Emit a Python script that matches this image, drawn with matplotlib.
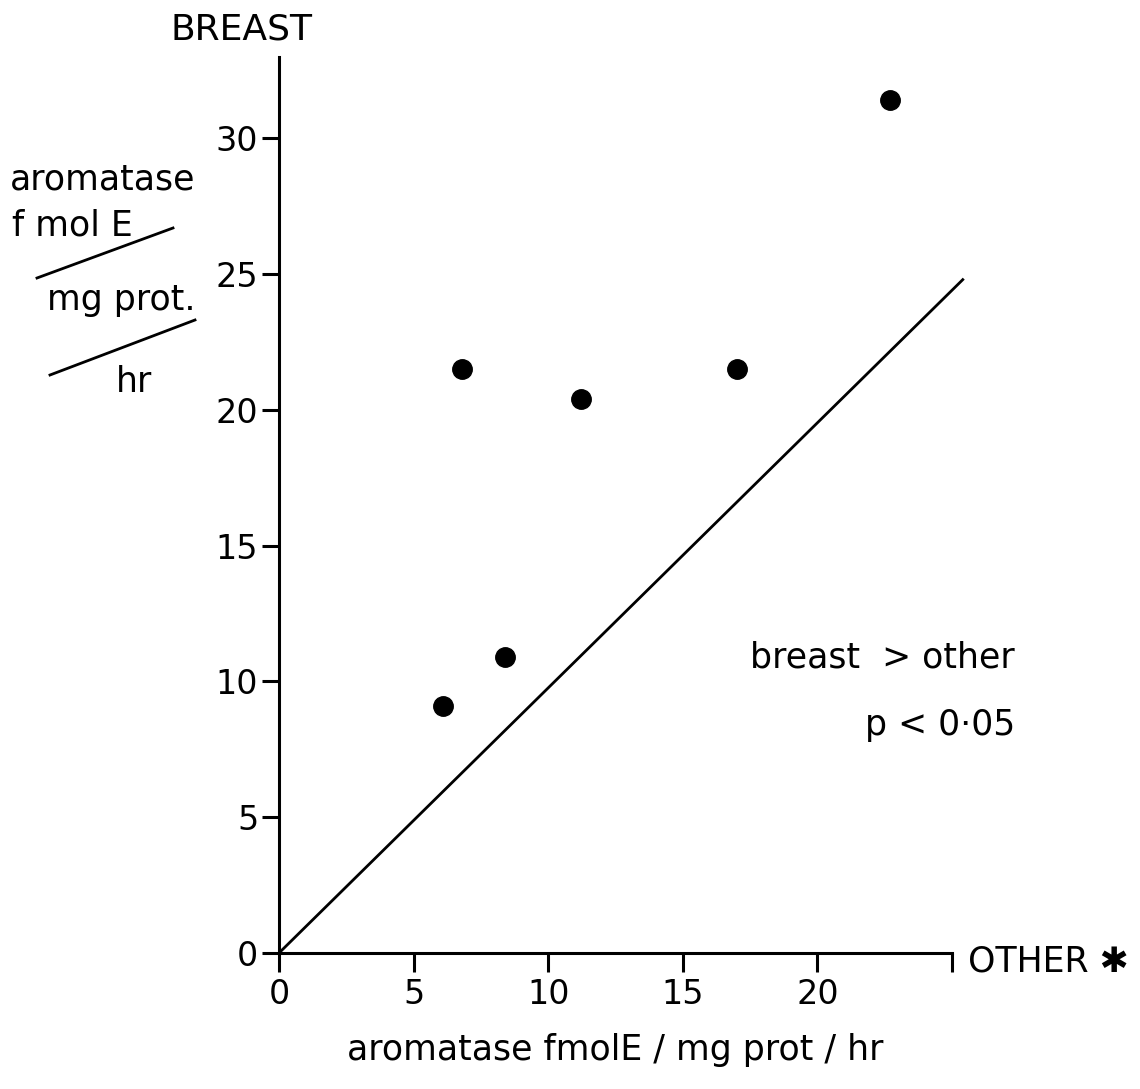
import numpy as np
import matplotlib
matplotlib.use("Agg")
import matplotlib.pyplot as plt
from matplotlib.lines import Line2D

# aromatase activity, other tissue (x) vs breast (y), fmol E / mg prot / hr
other = [6.1, 6.8, 8.4, 11.2, 17.0, 22.7]
breast = [9.1, 21.5, 10.9, 20.4, 21.5, 31.4]

# reference line drawn on the plot
line_x = [0, 25.4]
line_y = [0, 24.8]

xticks = [0, 5, 10, 15, 20, 25]
xtick_labels = ["0", "5", "10", "15", "20", ""]
yticks = [0, 5, 10, 15, 20, 25, 30]

plt.rcParams["font.family"] = "DejaVu Sans"
W, H = 1140, 1089
fig = plt.figure(figsize=(W / 100, H / 100), dpi=100)
ax = fig.add_axes([279 / W, 1 - 953 / H, 673 / W, 896 / H])

ax.plot(line_x, line_y, color="black", lw=2.0, clip_on=False)
ax.plot(other, breast, "o", color="black", ms=14, clip_on=False)

ax.set_xlim(0, 25)
ax.set_ylim(0, 33)
ax.set_xticks(xticks)
ax.set_xticklabels(xtick_labels)
ax.set_yticks(yticks)
for s in ["top", "right"]:
    ax.spines[s].set_visible(False)
for s in ["left", "bottom"]:
    ax.spines[s].set_linewidth(2.2)
ax.tick_params(axis="x", direction="out", length=14, width=2.2, pad=4, labelsize=24)
ax.tick_params(axis="y", direction="out", length=12, width=2.2, pad=3, labelsize=24)

fs = 25
# axis titles
fig.text(170 / W, 1 - 30 / H, "BREAST", fontsize=fs + 1, ha="left", va="center")
fig.text(968 / W, 1 - 962 / H, "OTHER \u2731", fontsize=fs, ha="left", va="center")
fig.text(615 / W, 1 - 1050 / H, "aromatase fmolE / mg prot / hr",
         fontsize=fs, ha="center", va="center")

# stacked unit label on the y side
fig.text(10 / W, 1 - 180 / H, "aromatase", fontsize=fs, ha="left", va="center")
fig.text(12 / W, 1 - 225 / H, "f mol E", fontsize=fs, ha="left", va="center")
fig.text(47 / W, 1 - 300 / H, "mg prot.", fontsize=fs, ha="left", va="center")
fig.text(116 / W, 1 - 382 / H, "hr", fontsize=fs, ha="left", va="center")
for (x0, y0), (x1, y1) in [((37, 278), (173, 228)), ((50, 375), (195, 320))]:
    fig.add_artist(Line2D([x0 / W, x1 / W], [1 - y0 / H, 1 - y1 / H],
                          transform=fig.transFigure, color="black", lw=2.0))

# significance note
fig.text(1015 / W, 1 - 658 / H, "breast  > other", fontsize=fs, ha="right", va="center")
fig.text(1015 / W, 1 - 725 / H, "p < 0\u00b705", fontsize=fs, ha="right", va="center")

fig.savefig("out.png", dpi=100)
